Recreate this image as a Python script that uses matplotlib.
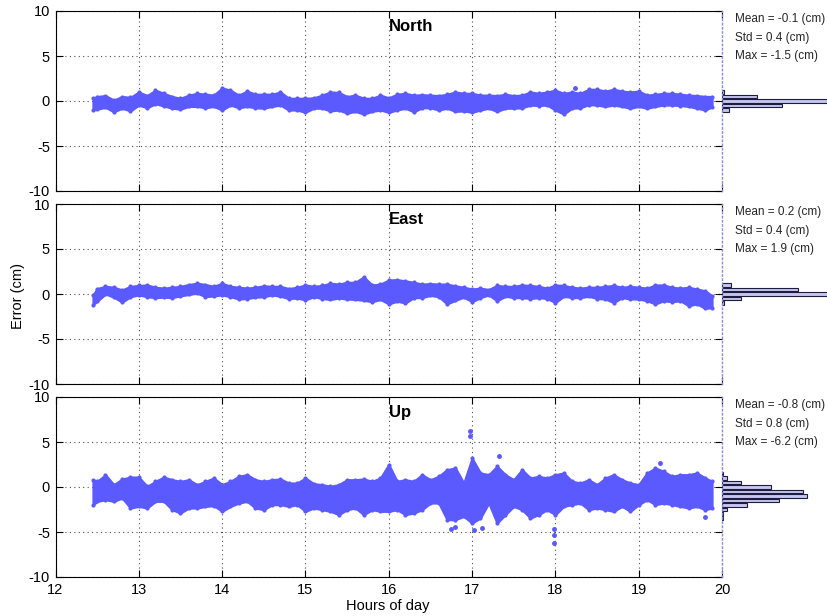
import matplotlib
matplotlib.use("Agg")
from matplotlib import pyplot as plt

plt.rcParams['font.family'] = ['Liberation Sans', 'DejaVu Sans']
plt.rcParams['axes.unicode_minus'] = False

# Sample epochs (hours of day) and the spread of the error cloud at each one (cm)
hours = [12.45, 12.5, 12.6, 12.7, 12.8, 12.9, 13.0, 13.1, 13.2, 13.3,
         13.4, 13.5, 13.6, 13.7, 13.8, 13.9, 14.0, 14.1, 14.2, 14.3,
         14.4, 14.5, 14.6, 14.7, 14.8, 14.9, 15.0, 15.1, 15.2, 15.3,
         15.4, 15.5, 15.6, 15.7, 15.8, 15.9, 16.0, 16.1, 16.2, 16.3,
         16.4, 16.5, 16.6, 16.7, 16.8, 16.9, 17.0, 17.1, 17.2, 17.3,
         17.4, 17.5, 17.6, 17.7, 17.8, 17.9, 18.0, 18.1, 18.2, 18.3,
         18.4, 18.5, 18.6, 18.7, 18.8, 18.9, 19.0, 19.1, 19.2, 19.3,
         19.4, 19.5, 19.6, 19.7, 19.8, 19.88]

north_hi = [0.3, 0.5, 0.6, 0.1, 0.5, 0.4, 1.0, 0.6, 1.2, 0.85,
            0.5, 0.3, 0.65, 0.85, 0.75, 0.65, 1.45, 1.2, 0.65, 1.1,
            0.75, 0.75, 0.75, 1.0, 0.3, 0.3, 0.3, 0.35, 0.65, 1.0,
            0.95, 0.5, 0.65, 0.3, 0.3, 0.65, 0.35, 0.75, 0.85, 0.65,
            0.7, 0.65, 0.6, 0.75, 1.0, 0.85, 0.85, 0.65, 0.65, 0.6,
            0.75, 0.6, 0.65, 1.0, 0.85, 1.0, 1.2, 0.85, 1.0, 0.85,
            1.3, 1.3, 1.1, 1.3, 1.1, 1.0, 1.1, 0.65, 0.75, 0.85,
            0.85, 0.75, 0.65, 0.6, 0.5, 0.5]
north_lo = [-1.0, -0.9, -0.7, -1.2, -0.8, -1.1, -0.45, -0.75, -0.3, -0.55,
            -0.8, -0.9, -0.6, -0.6, -0.75, -0.6, -1.0, -0.45, -0.75, -0.6,
            -0.75, -0.8, -0.6, -0.45, -1.0, -1.0, -1.25, -0.8, -0.8, -1.1,
            -1.0, -1.35, -1.15, -1.45, -1.15, -1.0, -1.25, -1.0, -0.8, -1.2,
            -0.75, -0.75, -1.0, -0.8, -1.15, -1.1, -1.25, -1.0, -0.8, -1.15,
            -0.8, -0.8, -0.75, -0.45, -0.5, -0.45, -1.0, -1.45, -0.8, -0.75,
            -0.4, -0.45, -0.6, -0.45, -0.6, -0.8, -0.6, -0.8, -0.6, -0.45,
            -0.45, -0.5, -0.6, -0.8, -1.0, -0.65]

east_hi = [-0.1, 0.6, 0.85, 0.75, 0.45, 0.85, 0.95, 1.0, 0.75, 0.65,
           0.75, 0.85, 1.05, 1.2, 1.05, 0.85, 1.2, 0.85, 0.75, 0.65,
           0.75, 0.9, 0.85, 0.85, 0.6, 0.75, 1.0, 0.85, 0.95, 1.2,
           1.1, 1.3, 1.3, 1.9, 1.0, 1.1, 1.55, 1.6, 1.45, 1.3,
           1.1, 1.15, 1.1, 1.1, 0.9, 0.75, 0.55, 0.65, 0.5, 0.95,
           0.85, 0.85, 1.0, 0.95, 0.85, 0.65, 1.0, 0.95, 0.75, 0.65,
           0.75, 0.75, 0.85, 0.95, 0.75, 0.85, 0.75, 0.65, 1.0, 1.0,
           0.75, 0.65, 0.75, 0.55, 0.35, -0.2]
east_lo = [-1.2, -0.8, 0.0, -0.35, -0.9, -0.3, -0.1, -0.3, -0.4, -0.35,
           -0.4, -0.2, -0.05, 0.1, -0.3, -0.2, -0.1, -0.3, -0.55, -0.5,
           -0.35, -0.3, -0.1, -0.25, -0.5, -0.45, -0.65, -0.3, -0.5, -0.6,
           -0.45, -0.55, -0.6, -0.7, -0.85, -0.6, -1.1, -0.8, -1.0, -0.4,
           -0.4, -0.15, -0.3, -1.1, -0.7, -0.35, -0.85, -0.4, -0.1, -0.75,
           -0.25, -0.4, -0.4, -0.5, -0.4, -0.5, -0.95, -0.25, -0.4, -0.4,
           -0.25, -0.5, -0.55, -0.95, -0.4, -0.55, -0.55, -0.75, -1.1, -0.75,
           -0.85, -0.75, -1.3, -1.1, -1.6, -1.5]

up_hi = [0.8, 0.63, 1.35, 0.26, 0.89, 1.1, 1.1, 0.07, 0.63, 1.1,
         0.81, 0.63, 0.81, 0.26, 0.63, 1.0, 0.26, 0.63, 1.19, 1.37,
         0.81, 0.63, 0.81, 0.89, 0.44, 0.44, 1.0, 0.37, 0.26, 0.07,
         0.26, 0.81, 0.81, 0.89, 0.63, 1.0, 2.5, 0.63, 0.81, 0.63,
         1.37, 0.81, 1.19, 1.93, 2.11, 0.44, 3.2, 1.56, 1.37, 2.3,
         1.37, 0.81, 1.93, 1.0, 1.19, 1.0, 1.37, 1.56, 0.63, 0.44,
         0.81, 0.26, 1.0, 1.37, 0.81, 0.44, 0.26, 1.56, 2.11, 1.74,
         1.19, 1.37, 1.37, 1.56, 1.0, 0.63]
up_lo = [-2.0, -1.59, -1.41, -1.59, -1.22, -2.33, -2.15, -2.33, -1.59, -1.59,
         -2.52, -2.89, -2.33, -2.33, -2.15, -2.07, -2.7, -2.15, -1.78, -1.59,
         -2.33, -2.52, -1.96, -1.96, -2.15, -1.96, -2.7, -2.33, -2.52, -2.7,
         -3.07, -2.52, -2.33, -3.07, -2.52, -2.7, -2.7, -2.52, -3.07, -2.89,
         -2.52, -1.78, -1.78, -3.63, -3.63, -3.26, -4.0, -3.44, -1.78, -4.0,
         -3.07, -2.15, -2.52, -3.44, -3.07, -2.52, -3.07, -2.15, -1.96, -1.78,
         -2.52, -2.33, -2.52, -2.7, -2.15, -2.7, -1.96, -1.41, -1.96, -1.78,
         -1.96, -2.15, -2.33, -2.15, -2.52, -2.33]

# isolated epochs lying outside the main cloud
north_out_t = [18.24]
north_out_v = [1.5]
up_out_t = [16.75, 16.8, 16.98, 16.98, 17.02, 17.12, 17.32, 17.98, 17.98, 17.98, 19.26, 19.8]
up_out_v = [-4.7, -4.4, 6.2, 5.7, -4.8, -4.6, 3.5, -4.7, -5.3, -6.2, 2.65, -3.3]

# error histograms (bin centre in cm, counts)
north_bins = [1.0, 0.5, 0.0, -0.5, -1.0]
north_counts = [2, 35, 150, 60, 7]
east_bins = [1.0, 0.5, 0.0, -0.5, -1.0]
east_counts = [9, 76, 150, 19, 2]
up_bins = [1.5, 1.0, 0.5, 0.0, -0.5, -1.0, -1.5, -2.0, -2.5, -3.0, -3.5]
up_counts = [1, 5, 19, 49, 81, 85, 57, 25, 5, 1, 1]

titles = ["North", "East", "Up"]
stats = [("-0.1", "0.4", "-1.5"), ("0.2", "0.4", "1.9"), ("-0.8", "0.8", "-6.2")]

DOT = '#5a5aff'
W, H = 828, 616

fig = plt.figure(figsize=(W / 100, H / 100), dpi=100)

panels = [
    (north_hi, north_lo, north_out_t, north_out_v, north_bins, north_counts),
    (east_hi, east_lo, [], [], east_bins, east_counts),
    (up_hi, up_lo, up_out_t, up_out_v, up_bins, up_counts),
]

left, right_px = 55.5, 722
tops = [11, 204, 397]
height = 180

for i, (hi, lo, ot, ov, bins, counts) in enumerate(panels):
    bottom = 1 - (tops[i] + height) / H
    ax = fig.add_axes([left / W, bottom, (right_px - left) / W, height / H])
    ax.fill_between(hours, lo, hi, color=DOT, linewidth=1.6, zorder=3)
    # beaded edge like the individual epochs
    ax.plot(hours, hi, '.', color=DOT, markersize=4, zorder=3)
    ax.plot(hours, lo, '.', color=DOT, markersize=4, zorder=3)
    if ot:
        ax.plot(ot, ov, '.', color=DOT, markersize=5, zorder=3)
    ax.set_xlim(12, 20)
    ax.set_ylim(-10, 10)
    ax.set_xticks(range(12, 21))
    ax.set_yticks([-10, -5, 0, 5, 10])
    ax.set_axisbelow(True)
    ax.grid(True, linestyle=(0, (1, 3)), color='0.3', linewidth=0.8)
    ax.tick_params(direction='in', length=5, width=0.8, top=True, right=True,
                   labelsize=10.5, pad=4)
    if i < 2:
        ax.tick_params(labelbottom=False)
    for s in ['left', 'top', 'bottom']:
        ax.spines[s].set_linewidth(0.8)
    ax.spines['right'].set_visible(False)

    ax.text(16, 8.3, titles[i], fontsize=12, fontweight='bold', va='center', ha='left')

    m, sd, mx = stats[i]
    tx = (735 - left) / (right_px - left)
    for j, s in enumerate([f"Mean = {m} (cm)", f"Std = {sd} (cm)", f"Max = {mx} (cm)"]):
        ax.text(tx, 1 - (8 + 18.5 * j) / height, s, transform=ax.transAxes,
                fontsize=8.5, va='center', ha='left', color='0.15', clip_on=False)

    # histogram of the errors beside each panel
    hx = fig.add_axes([right_px / W, bottom, (W - right_px) / W, height / H])
    hx.barh(bins, counts, height=0.4, color='#c6c6f0', edgecolor='#1c1c3c', linewidth=0.8)
    hx.set_ylim(-10, 10)
    hx.set_xlim(0, W - right_px)
    hx.set_xticks([])
    hx.set_yticks([])
    hx.patch.set_alpha(0)
    for s in ['top', 'right', 'bottom']:
        hx.spines[s].set_visible(False)
    hx.spines['left'].set_linestyle((0, (1, 2)))
    hx.spines['left'].set_color('#8c8cdc')
    hx.spines['left'].set_linewidth(1.0)

fig.text(18 / W, 1 - 296 / H, "Error (cm)", rotation=90, fontsize=10.5, va='center', ha='center')
fig.text(388 / W, 1 - 606 / H, "Hours of day", fontsize=10.5, va='center', ha='center')

fig.savefig("out.png", dpi=100)
